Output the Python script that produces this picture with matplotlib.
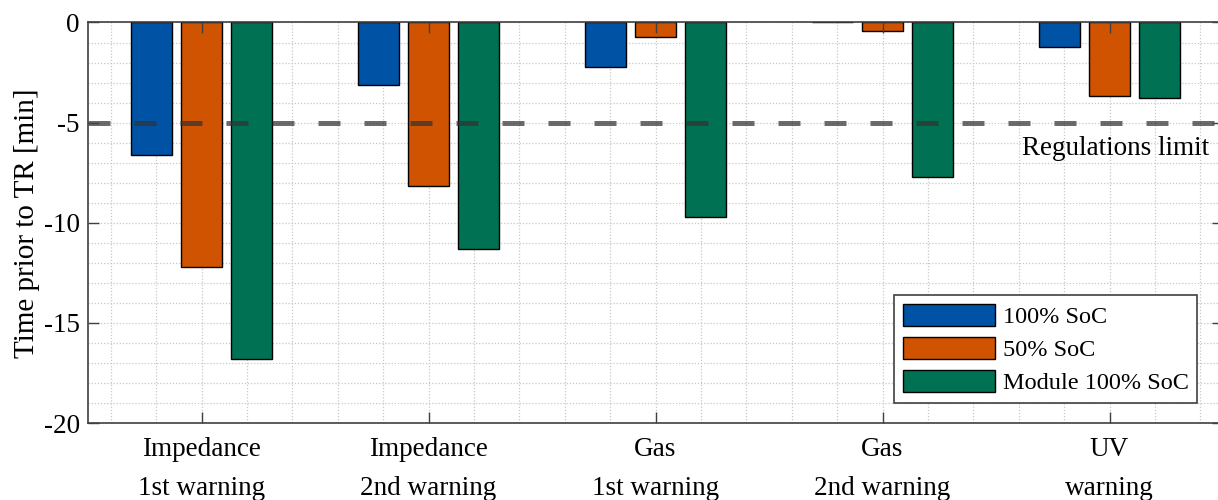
import numpy as np
import matplotlib
matplotlib.use("Agg")
import matplotlib.pyplot as plt
from matplotlib.ticker import MultipleLocator

categories = ["Impedance\n1st warning", "Impedance\n2nd warning", "Gas\n1st warning",
              "Gas\n2nd warning", "UV\nwarning"]
series_names = ["100% SoC", "50% SoC", "Module 100% SoC"]
soc100 = [-6.6, -3.1, -2.22, 0.0, -1.22]
soc50 = [-12.2, -8.18, -0.74, -0.42, -3.68]
module100 = [-16.8, -11.3, -9.7, -7.7, -3.78]
regulation_limit = -5
limit_label = "Regulations limit"

colors = ["#0052A5", "#CF5300", "#007253"]

plt.rcParams['font.family'] = ['Liberation Serif', 'DejaVu Serif']
plt.rcParams['axes.unicode_minus'] = False

W, H = 1218, 500
fig = plt.figure(figsize=(W / 100, H / 100), dpi=100)
rect = [88 / W, (H - 423) / H, 1135 / W, 400.5 / H]
ax = fig.add_axes(rect)

x = np.arange(1, len(categories) + 1)
width = 0.18
offset = 0.222
for i, (vals, name) in enumerate(zip([soc100, soc50, module100], series_names)):
    ax.bar(x + (i - 1) * offset, vals, width, color=colors[i], edgecolor='black',
           linewidth=1.0, label=name, zorder=2)

ax.axhline(regulation_limit, color='#333333', alpha=0.72, linewidth=3.6,
           dashes=(4.4, 4.8), zorder=3)
ax.text(5.44, -6.3, limit_label, ha='right', va='center', fontsize=19.5, zorder=4)

ax.set_xlim(0.5, 5.5)
ax.set_ylim(-20, 0)
ax.set_xticks(x)
ax.set_xticklabels(categories, linespacing=1.75)
ax.set_yticks([0, -5, -10, -15, -20])
ax.xaxis.set_minor_locator(MultipleLocator(0.2))
ax.yaxis.set_minor_locator(MultipleLocator(1))
ax.set_axisbelow(True)
ax.grid(which='both', linestyle=(0, (1, 1.5)), color='#c8c8c8', linewidth=0.9)
ax.tick_params(which='both', length=0, labelsize=19.5)
ax.tick_params(axis='y', pad=6)
ax.tick_params(axis='x', pad=10)
for s in ax.spines.values():
    s.set_visible(False)
ax.set_ylabel("Time prior to TR [min]", fontsize=21)
ax.yaxis.set_label_coords((40 - 88) / 1135, 0.5)

# overlay axes for box and inward ticks drawn above the bars
ax2 = fig.add_axes(rect, sharex=ax, sharey=ax)
ax2.patch.set_visible(False)
ax2.tick_params(which='major', direction='in', length=8, width=1.0, color='#404040',
                top=True, right=True, labelbottom=False, labelleft=False)
ax2.tick_params(which='minor', length=0)
for s in ax2.spines.values():
    s.set_color('#404040')
    s.set_linewidth(1.2)

handles, labels = ax.get_legend_handles_labels()
leg = ax2.legend(handles, labels, loc='lower right',
                 bbox_to_anchor=(1197 / W, (H - 403) / H), bbox_transform=fig.transFigure,
                 borderaxespad=0, fontsize=17.5, handlelength=3.8, handleheight=1.05,
                 handletextpad=0.3, labelspacing=0.35, borderpad=0.35,
                 fancybox=False, framealpha=1, edgecolor='#404040')
leg.get_frame().set_linewidth(1.2)

fig.savefig("out.png", dpi=100)
